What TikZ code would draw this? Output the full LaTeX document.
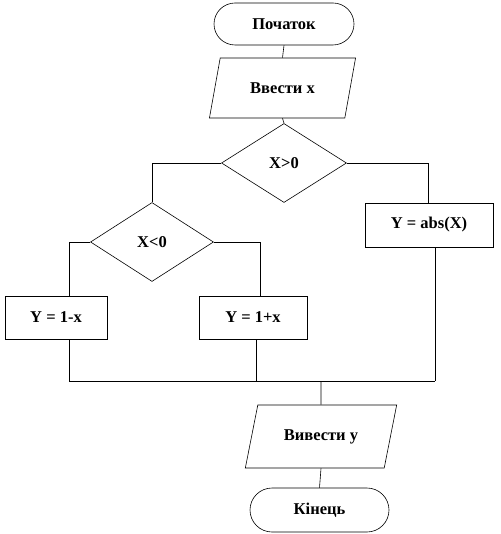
\documentclass[tikz,border=0pt]{standalone}
\usepackage{fontspec}
\setmainfont{Liberation Serif}
\usetikzlibrary{shapes.geometric}
\begin{document}
\begin{tikzpicture}[x=1pt,y=1pt,
  every node/.style={font=\fontsize{16.5}{19}\selectfont\bfseries, draw, line width=0.6pt, inner sep=0pt},
  term/.style={rectangle, rounded corners=21pt, minimum height=42pt},
  io/.style={trapezium, trapezium left angle=63, trapezium right angle=117, trapezium stretches=true},
  proc/.style={rectangle, minimum height=43pt},
  dec/.style={diamond, minimum width=125pt, minimum height=79pt},
  conn/.style={line width=0.6pt}]
\useasboundingbox (0,0) rectangle (500,-534);
\node[term, minimum width=140pt] (start) at (284,-24) {Початок};
\node[io, minimum width=147pt, minimum height=60pt] (in1) at (282.5,-88) {Ввести х};
\node[dec] (d1) at (284,-163) {X>0};
\node[proc, minimum width=128pt, minimum height=44pt] (abs) at (429,-225) {Y = abs(X)};
\node[dec, minimum width=123pt] (d2) at (152,-242) {X<0};
\node[proc, minimum width=102pt] (b1) at (56,-317.5) {Y = 1-x};
\node[proc, minimum width=108pt] (b2) at (253,-317.5) {Y = 1+x};
\node[io, minimum width=152pt, minimum height=63pt] (out) at (321,-436.5) {Вивести у};
\node[term, minimum width=139pt, minimum height=44pt, rounded corners=22pt] (end) at (319.5,-510) {Кінець};
\coordinate (m1) at (69,-381);
\coordinate (m2) at (256,-381);
\coordinate (m3) at (435,-381);
\coordinate (m4) at (321,-381);
\draw[conn] (start.south) -- (in1.north);
\draw[conn] (in1.south) -- (d1.north);
\draw[conn] (d1.west) -| (d2.north);
\draw[conn] (d1.east) -| ([xshift=-1pt]abs.north);
\draw[conn] (d2.west) -| ([xshift=13pt]b1.north);
\draw[conn] (d2.east) -| ([xshift=7pt]b2.north);
\draw[conn] ([xshift=13pt]b1.south) -- (m1);
\draw[conn] ([xshift=3pt]b2.south) -- (m2);
\draw[conn] ([xshift=6pt]abs.south) -- (m3);
\draw[conn] (m1) -- (m3);
\draw[conn] (m4) -- (out.north);
\draw[conn] (out.south) -- (end.north);
\end{tikzpicture}
\end{document}
